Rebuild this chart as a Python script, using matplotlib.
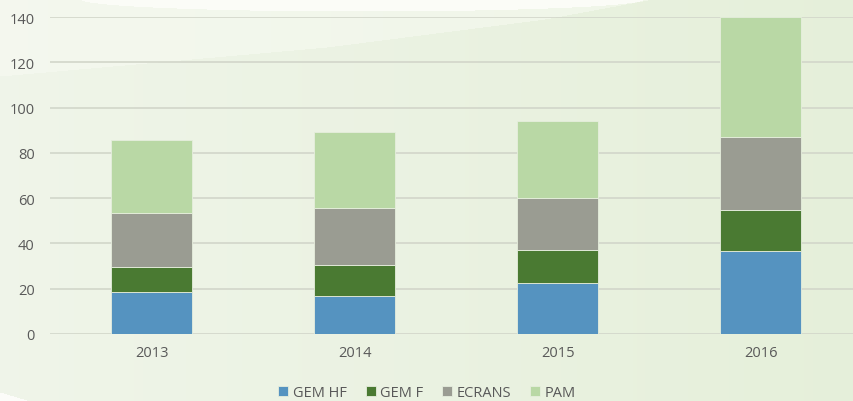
import matplotlib.pyplot as plt
import numpy as np

years = ['2013', '2014', '2015', '2016']
gem_hf = [18.4, 16.8, 22.4, 36.8]
gem_f = [11.3, 13.7, 14.7, 17.8]
ecrans = [23.7, 25.1, 22.8, 32.3]
pam = [32.1, 33.6, 34.2, 53.1]

series = [('GEM HF', gem_hf, '#5593c0'),
          ('GEM F', gem_f, '#4a7a32'),
          ('ECRANS', ecrans, '#9a9c92'),
          ('PAM', pam, '#b9d8a5')]

plt.rcParams['font.family'] = ['Open Sans', 'DejaVu Sans']

fig = plt.figure(figsize=(8.54, 4.02), dpi=100)

# background: soft green gradient with lighter sweeps at the top
bg = fig.add_axes([0, 0, 1, 1], zorder=-10)
h, w = 402, 854
yy, xx = np.mgrid[0:h, 0:w]
t = xx / w
c0 = np.array([0.94, 0.96, 0.915])
c1 = np.array([0.90, 0.94, 0.855])
img = c0 * (1 - t[..., None]) + c1 * t[..., None]
edge = np.interp(xx, [0, 327, 545, 653], [77, 48, 20, 0])
img[yy < edge] = img[yy < edge] * 0.5 + np.array([0.975, 0.985, 0.955]) * 0.5
ell = ((xx - 362) / 281.0) ** 2 + (yy / 12.0) ** 2 < 1
img[ell] = np.array([0.985, 0.99, 0.97])
corner = yy > 393 + 9 * xx / 30
img[corner] = np.array([0.99, 0.99, 0.98])
bg.imshow(img, aspect='auto', extent=[0, 1, 0, 1], interpolation='bilinear')
bg.axis('off')

ax = fig.add_axes([50 / 854, 67 / 402, 804 / 854, 317 / 402])
ax.patch.set_alpha(0)

x = np.arange(len(years))
bottom = np.zeros(len(years))
for name, vals, color in series:
    ax.bar(x, vals, width=0.4, bottom=bottom, color=color, label=name,
           edgecolor='#e6eedd', linewidth=0.6, zorder=3)
    bottom += np.array(vals)

ax.set_ylim(0, 140)
ax.set_xlim(-0.5, 3.46)
ax.set_yticks(range(0, 141, 20))
ax.set_xticks(x, years)
ax.grid(axis='y', color='#d2d6ca', linewidth=1.2, zorder=0)
for s in ax.spines.values():
    s.set_visible(False)
ax.tick_params(axis='both', length=0, labelsize=10.5, colors='#595959')
ax.tick_params(axis='y', pad=11)
ax.tick_params(axis='x', pad=8)

fig.legend(loc='lower center', bbox_to_anchor=(0.5, -0.03), ncol=4,
           frameon=False, fontsize=10.5, handlelength=0.7, handleheight=0.7,
           handletextpad=0.3, columnspacing=1.3, labelcolor='#595959')

fig.savefig('out.png', dpi=100)
